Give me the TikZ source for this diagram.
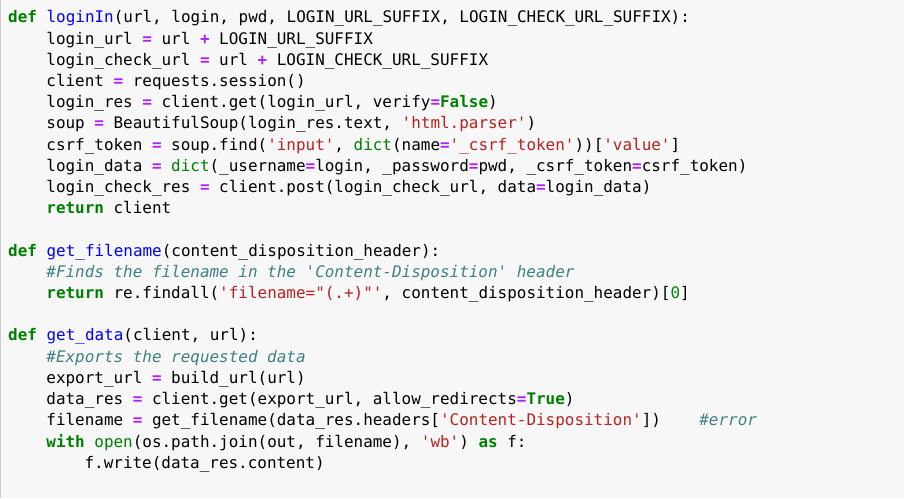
\documentclass[tikz,border=0pt]{standalone}
\usepackage{fontspec}
\setmonofont{DejaVu Sans Mono}

\definecolor{cellbg}{HTML}{F7F7F7}
\definecolor{cellborder}{HTML}{CFCFCF}
\definecolor{kwgreen}{HTML}{008000}
\definecolor{fnblue}{HTML}{0000FF}
\definecolor{oppurple}{HTML}{AA22FF}
\definecolor{strred}{HTML}{BA2121}
\definecolor{cmteal}{HTML}{408080}
\definecolor{numgreen}{HTML}{008800}

\newcommand{\kw}[1]{\textcolor{kwgreen}{\bfseries #1}}
\newcommand{\fn}[1]{\textcolor{fnblue}{#1}}
\newcommand{\op}[1]{\textcolor{oppurple}{\bfseries #1}}
\newcommand{\str}[1]{\textcolor{strred}{#1}}
\newcommand{\cm}[1]{\textcolor{cmteal}{\itshape #1}}
\newcommand{\bi}[1]{\textcolor{kwgreen}{#1}}
\newcommand{\num}[1]{\textcolor{numgreen}{#1}}

\tikzset{
	codeline/.style = {anchor=base west, inner sep=0pt, text=black,
		font=\ttfamily\fontsize{15.95}{21.2}\selectfont}
}

\begin{document}
\begin{tikzpicture}[x=1pt, y=1pt]

	\useasboundingbox (0,0) rectangle (904,498);
	\fill[cellbg] (0,0) rectangle (904,498);
	\draw[cellborder, line width=1pt] (0.5,0) -- (0.5,498);

	% loginIn
	\node[codeline] (l1)  at (8, 475)      {\kw{def} \fn{loginIn}(url, login, pwd, LOGIN\_URL\_SUFFIX, LOGIN\_CHECK\_URL\_SUFFIX):};
	\node[codeline] (l2)  at (46.2, 453.8) {login\_url \op{=} url \op{+} LOGIN\_URL\_SUFFIX};
	\node[codeline] (l3)  at (46.2, 432.6) {login\_check\_url \op{=} url \op{+} LOGIN\_CHECK\_URL\_SUFFIX};
	\node[codeline] (l4)  at (46.2, 411.4) {client \op{=} requests.session()};
	\node[codeline] (l5)  at (46.2, 390.2) {login\_res \op{=} client.get(login\_url, verify\op{=}\kw{False})};
	\node[codeline] (l6)  at (46.2, 369)   {soup \op{=} BeautifulSoup(login\_res.text, \str{'html.parser'})};
	\node[codeline] (l7)  at (46.2, 347.8) {csrf\_token \op{=} soup.find(\str{'input'}, \bi{dict}(name\op{=}\str{'\_csrf\_token'}))[\str{'value'}]};
	\node[codeline] (l8)  at (46.2, 326.6) {login\_data \op{=} \bi{dict}(\_username\op{=}login, \_password\op{=}pwd, \_csrf\_token\op{=}csrf\_token)};
	\node[codeline] (l9)  at (46.2, 305.4) {login\_check\_res \op{=} client.post(login\_check\_url, data\op{=}login\_data)};
	\node[codeline] (l10) at (46.2, 284.2) {\kw{return} client};

	% get_filename
	\node[codeline] (l12) at (8, 241.8)    {\kw{def} \fn{get\_filename}(content\_disposition\_header):};
	\node[codeline] (l13) at (46.2, 220.6) {\cm{\#Finds the filename in the 'Content-Disposition' header}};
	\node[codeline] (l14) at (46.2, 199.4) {\kw{return} re.findall(\str{'filename="(.+)"'}, content\_disposition\_header)[\num{0}]};

	% get_data
	\node[codeline] (l16) at (8, 157)      {\kw{def} \fn{get\_data}(client, url):};
	\node[codeline] (l17) at (46.2, 135.8) {\cm{\#Exports the requested data}};
	\node[codeline] (l18) at (46.2, 114.6) {export\_url \op{=} build\_url(url)};
	\node[codeline] (l19) at (46.2, 93.4)  {data\_res \op{=} client.get(export\_url, allow\_redirects\op{=}\kw{True})};
	\node[codeline] (l20) at (46.2, 72.2)  {filename \op{=} get\_filename(data\_res.headers[\str{'Content-Disposition'}])~~~~\cm{\#error}};
	\node[codeline] (l21) at (46.2, 51)    {\kw{with} \bi{open}(os.path.join(out, filename), \str{'wb'}) \kw{as} f:};
	\node[codeline] (l22) at (84.4, 29.8)  {f.write(data\_res.content)};

\end{tikzpicture}
\end{document}
